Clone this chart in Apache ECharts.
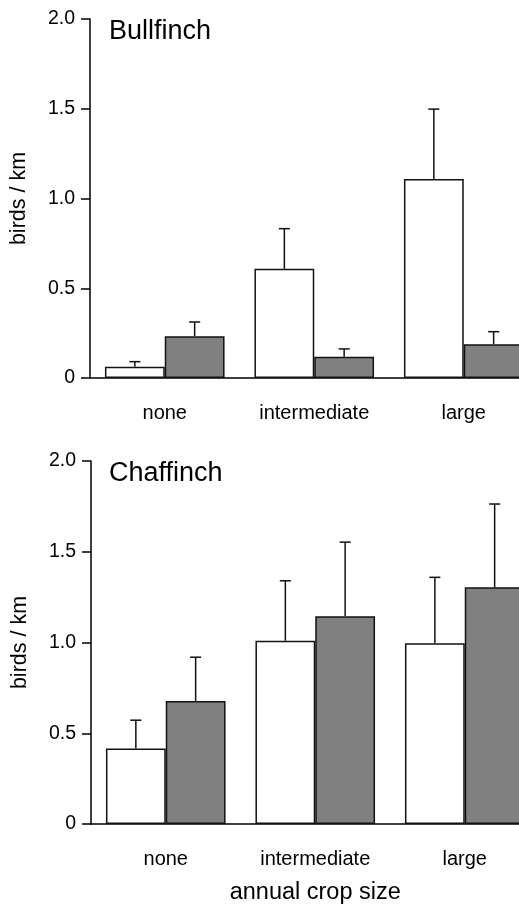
<!DOCTYPE html>
<html>
<head>
<meta charset="utf-8">
<script src="https://cdn.jsdelivr.net/npm/echarts@6/dist/echarts.min.js"></script>
<style>html,body{margin:0;padding:0;background:#fff;}#c{width:519px;height:918px;}</style>
</head>
<body>
<div id="c"></div>
<script>
const categories = ['none', 'intermediate', 'large'];
const yTicks = [0, 0.5, 1.0, 1.5, 2.0];
// Bullfinch
const bullfinchOpen = [0.063, 0.608, 1.108];
const bullfinchOpenErr = [0.028, 0.224, 0.390];
const bullfinchFilled = [0.232, 0.119, 0.188];
const bullfinchFilledErr = [0.080, 0.043, 0.070];
// Chaffinch
const chaffinchOpen = [0.416, 1.010, 0.996];
const chaffinchOpenErr = [0.156, 0.330, 0.363];
const chaffinchFilled = [0.678, 1.144, 1.304];
const chaffinchFilledErr = [0.241, 0.409, 0.459];

const FONT = 'Liberation Sans, Arial, Helvetica, sans-serif';
const chart = echarts.init(document.getElementById('c'), null, {renderer: 'canvas'});

function errSeries(idx, vals, errs, side) {
  return {
    type: 'custom', xAxisIndex: idx, yAxisIndex: idx, z: 5, clip: false,
    data: vals.map((v, i) => [i, v, errs[i]]),
    renderItem: function (params, api) {
      const x = api.value(0), v = api.value(1), e = api.value(2);
      const band = api.size([1, 0])[0];
      const base = api.coord([x, v]);
      const top = api.coord([x, v + e]);
      const cx = base[0] + side * band * 0.2;
      const half = band * 0.037;
      const st = {stroke: '#111', lineWidth: 1.5};
      return {type: 'group', children: [
        {type: 'line', shape: {x1: cx, y1: base[1], x2: cx, y2: top[1]}, style: st},
        {type: 'line', shape: {x1: cx - half, y1: top[1], x2: cx + half, y2: top[1]}, style: st}
      ]};
    }
  };
}

function barSeries(idx, vals, color) {
  return {
    type: 'bar', xAxisIndex: idx, yAxisIndex: idx, data: vals,
    barWidth: '40%', barGap: '0%',
    itemStyle: {color: color, borderColor: '#111', borderWidth: 1.5},
    silent: true
  };
}

function yAxis(idx) {
  return {
    type: 'value', gridIndex: idx, min: 0, max: 2, interval: 0.5,
    name: 'birds / km', nameLocation: 'middle', nameGap: 60,
    nameTextStyle: {fontFamily: FONT, fontSize: 21.5, color: '#000'},
    axisLine: {show: true, lineStyle: {color: '#000', width: 1.5}},
    axisTick: {show: true, length: 9, lineStyle: {color: '#000', width: 1.5}},
    axisLabel: {margin: 15, fontFamily: FONT, fontSize: 19.5, color: '#000',
      formatter: v => (v === 0 ? '0' : v.toFixed(1))},
    splitLine: {show: false}
  };
}

function xAxis(idx, withName) {
  const a = {
    type: 'category', gridIndex: idx, data: categories,
    axisLine: {show: true, lineStyle: {color: '#000', width: 1.5}},
    axisTick: {show: false},
    axisLabel: {interval: 0, margin: 25, fontFamily: FONT, fontSize: 20, color: '#000'}
  };
  if (withName) {
    a.name = 'annual crop size';
    a.nameLocation = 'middle';
    a.nameGap = 57;
    a.nameTextStyle = {fontFamily: FONT, fontSize: 23.5, color: '#000'};
  }
  return a;
}

const option = {
  backgroundColor: '#fff',
  animation: false,
  title: [
    {text: 'Bullfinch', left: 104, top: 13, textStyle: {fontFamily: FONT, fontSize: 27, fontWeight: 'normal', color: '#000'}},
    {text: 'Chaffinch', left: 104, top: 455, textStyle: {fontFamily: FONT, fontSize: 27, fontWeight: 'normal', color: '#000'}}
  ],
  grid: [
    {left: 90, top: 19, width: 448.5, height: 359, outerBoundsMode: 'none', containLabel: false},
    {left: 91, top: 461, width: 448.5, height: 363, outerBoundsMode: 'none', containLabel: false}
  ],
  xAxis: [xAxis(0, false), xAxis(1, true)],
  yAxis: [yAxis(0), yAxis(1)],
  series: [
    barSeries(0, bullfinchOpen, '#ffffff'),
    barSeries(0, bullfinchFilled, '#808080'),
    errSeries(0, bullfinchOpen, bullfinchOpenErr, -1),
    errSeries(0, bullfinchFilled, bullfinchFilledErr, 1),
    barSeries(1, chaffinchOpen, '#ffffff'),
    barSeries(1, chaffinchFilled, '#808080'),
    errSeries(1, chaffinchOpen, chaffinchOpenErr, -1),
    errSeries(1, chaffinchFilled, chaffinchFilledErr, 1)
  ]
};
chart.setOption(option);
</script>
</body>
</html>
